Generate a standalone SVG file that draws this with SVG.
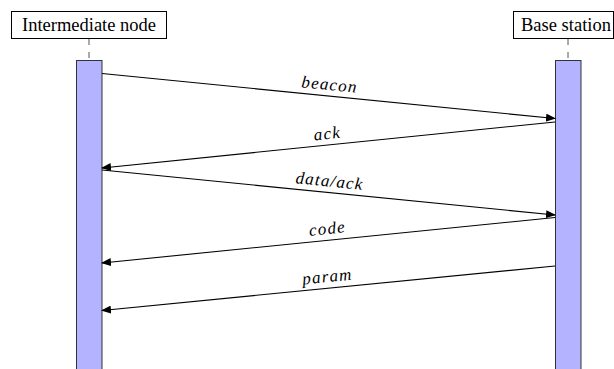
<svg xmlns="http://www.w3.org/2000/svg" width="614" height="369" viewBox="0 0 614 369">
<style>
.box{fill:#fff;stroke:#000;stroke-width:1}
.name{font-family:"Liberation Serif",serif;font-size:18.5px;fill:#000}
.life{stroke:#555;stroke-width:1;stroke-dasharray:6 7}
.bar{fill:#b3b3ff;stroke:#333;stroke-width:1}
.msg{stroke:#000;stroke-width:1.1;fill:none;marker-end:url(#ah)}
.lbl{font-family:"Liberation Serif",serif;font-style:italic;font-size:17px;letter-spacing:1.2px;fill:#000;text-anchor:middle}
</style>
<defs>
<marker id="ah" markerWidth="10" markerHeight="8" refX="9" refY="4" orient="auto" markerUnits="userSpaceOnUse">
<path d="M0,0 L10,4 L0,8 Z" fill="#000"/>
</marker>
</defs>
<g id="node-intermediate">
<rect class="box" x="11.5" y="11.5" width="155" height="27"/>
<text class="name" x="89" y="31" text-anchor="middle">Intermediate node</text>
<line class="life" x1="89" y1="39" x2="89" y2="60"/>
<rect class="bar" x="76.5" y="60.5" width="25.5" height="320"/>
</g>
<g id="node-base">
<rect class="box" x="513.5" y="11.5" width="100" height="27"/>
<text class="name" x="566" y="31" text-anchor="middle">Base station</text>
<line class="life" x1="568" y1="39" x2="568" y2="60"/>
<rect class="bar" x="555.5" y="60.5" width="25.5" height="320"/>
</g>
<g id="connectors">
<line class="msg" x1="102" y1="73.5" x2="555" y2="118.5"/>
<line class="msg" x1="555" y1="122" x2="102" y2="168"/>
<line class="msg" x1="102" y1="170" x2="555" y2="215"/>
<line class="msg" x1="555" y1="217.5" x2="102" y2="263"/>
<line class="msg" x1="555" y1="266" x2="102" y2="310.5"/>
<g transform="translate(328.5,96) rotate(5.67)"><text class="lbl" y="-6">beacon</text></g>
<g transform="translate(328.5,145) rotate(-5.8)"><text class="lbl" y="-6">ack</text></g>
<g transform="translate(328.5,192.5) rotate(5.67)"><text class="lbl" y="-6">data/ack</text></g>
<g transform="translate(328.5,240) rotate(-5.74)"><text class="lbl" y="-6">code</text></g>
<g transform="translate(328.5,288) rotate(-5.6)"><text class="lbl" y="-6">param</text></g>
</g>
</svg>
